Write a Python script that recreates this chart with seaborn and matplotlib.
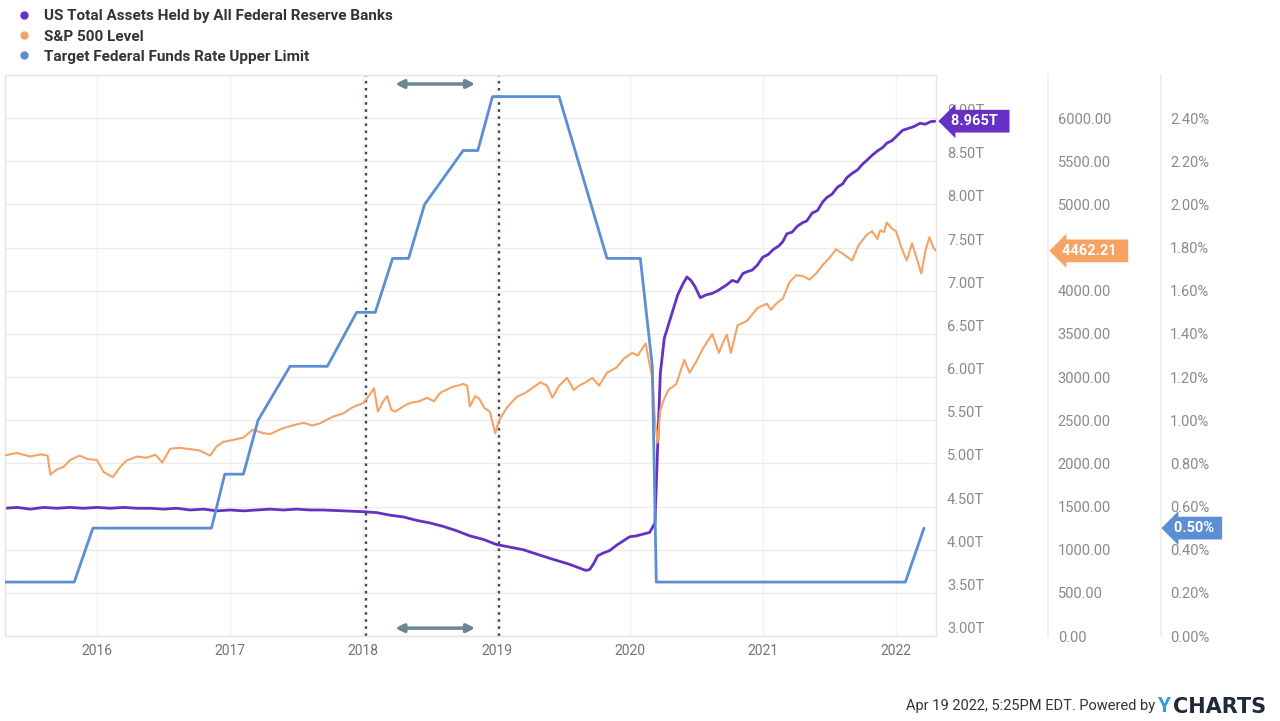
import matplotlib.pyplot as plt
import matplotlib.transforms as mtransforms
from matplotlib.lines import Line2D
import numpy as np
import pandas as pd
import seaborn as sns

sns.set_theme(style="white")
plt.rcParams["font.family"] = ["Roboto", "DejaVu Sans"]

PURPLE = "#6531c4"
ORANGE = "#f6a264"
BLUE = "#5b8ed3"

# --- data (x in decimal years) ---
rate_years = [2015.31, 2015.83, 2015.97, 2016.86, 2016.96, 2017.10, 2017.21,
              2017.45, 2017.73, 2017.95, 2018.09, 2018.22, 2018.34, 2018.46,
              2018.75, 2018.86, 2018.97, 2019.47, 2019.83, 2020.08, 2020.17,
              2020.20, 2022.07, 2022.21]
rate_vals = [0.25, 0.25, 0.50, 0.50, 0.75, 0.75, 1.00,
             1.25, 1.25, 1.50, 1.50, 1.75, 1.75, 2.00,
             2.25, 2.25, 2.50, 2.50, 1.75, 1.75, 1.25,
             0.25, 0.25, 0.50]

asset_years = [2015.31, 2015.40, 2015.50, 2015.60, 2015.70, 2015.80, 2015.90,
               2016.00, 2016.10, 2016.20, 2016.30, 2016.40, 2016.50, 2016.60,
               2016.70, 2016.80, 2016.90, 2017.00, 2017.10, 2017.20, 2017.30,
               2017.40, 2017.50, 2017.60, 2017.70, 2017.85, 2018.00, 2018.10,
               2018.20, 2018.30, 2018.40, 2018.50, 2018.60, 2018.70, 2018.80,
               2018.90, 2019.00, 2019.10, 2019.20, 2019.30, 2019.40, 2019.55,
               2019.67, 2019.70, 2019.73, 2019.76, 2019.80, 2019.85, 2019.90,
               2019.95, 2020.00, 2020.05, 2020.10, 2020.15, 2020.19, 2020.21,
               2020.23, 2020.26, 2020.29, 2020.32, 2020.36, 2020.40, 2020.43,
               2020.46, 2020.49, 2020.53, 2020.57, 2020.62, 2020.66, 2020.70,
               2020.73, 2020.77, 2020.81, 2020.85, 2020.88, 2020.92, 2020.96,
               2021.00, 2021.04, 2021.08, 2021.12, 2021.15, 2021.18, 2021.22,
               2021.26, 2021.30, 2021.33, 2021.37, 2021.41, 2021.45, 2021.48,
               2021.52, 2021.56, 2021.60, 2021.63, 2021.67, 2021.71, 2021.75,
               2021.78, 2021.82, 2021.86, 2021.90, 2021.93, 2021.97, 2022.01,
               2022.05, 2022.09, 2022.13, 2022.18, 2022.22, 2022.26, 2022.30]
asset_vals = [4.48, 4.49, 4.47, 4.49, 4.48, 4.49, 4.48,
              4.49, 4.48, 4.49, 4.48, 4.48, 4.47, 4.48,
              4.46, 4.47, 4.45, 4.46, 4.45, 4.46, 4.47,
              4.46, 4.47, 4.46, 4.46, 4.45, 4.44, 4.43,
              4.40, 4.38, 4.34, 4.31, 4.27, 4.22, 4.16,
              4.12, 4.06, 4.03, 4.00, 3.95, 3.90, 3.83,
              3.76, 3.77, 3.84, 3.93, 3.96, 3.99, 4.05,
              4.10, 4.15, 4.16, 4.18, 4.20, 4.31, 5.19,
              6.04, 6.45, 6.60, 6.75, 6.95, 7.08, 7.16,
              7.12, 7.05, 6.92, 6.95, 6.97, 7.00, 7.04,
              7.07, 7.12, 7.10, 7.20, 7.22, 7.24, 7.30,
              7.39, 7.42, 7.48, 7.52, 7.57, 7.66, 7.68,
              7.75, 7.79, 7.81, 7.90, 7.93, 8.03, 8.08,
              8.12, 8.20, 8.24, 8.31, 8.36, 8.40, 8.47,
              8.51, 8.57, 8.62, 8.66, 8.71, 8.74, 8.80,
              8.86, 8.88, 8.90, 8.94, 8.93, 8.96, 8.965]

spx_years = [2015.31, 2015.40, 2015.50, 2015.58, 2015.63, 2015.65, 2015.70,
             2015.75, 2015.80, 2015.87, 2015.93, 2016.00, 2016.05, 2016.12,
             2016.17, 2016.22, 2016.30, 2016.37, 2016.44, 2016.49, 2016.55,
             2016.62, 2016.70, 2016.77, 2016.85, 2016.90, 2016.95, 2017.02,
             2017.10, 2017.17, 2017.25, 2017.30, 2017.40, 2017.47, 2017.55,
             2017.62, 2017.67, 2017.77, 2017.85, 2017.92, 2018.00, 2018.05,
             2018.08, 2018.11, 2018.15, 2018.18, 2018.21, 2018.24, 2018.30,
             2018.35, 2018.42, 2018.48, 2018.53, 2018.58, 2018.66, 2018.75,
             2018.78, 2018.80, 2018.84, 2018.87, 2018.91, 2018.95, 2018.99,
             2019.02, 2019.08, 2019.15, 2019.22, 2019.33, 2019.38, 2019.42,
             2019.47, 2019.53, 2019.58, 2019.62, 2019.67, 2019.72, 2019.77,
             2019.83, 2019.90, 2019.96, 2020.02, 2020.06, 2020.12, 2020.15,
             2020.17, 2020.19, 2020.21, 2020.23, 2020.26, 2020.29, 2020.35,
             2020.41, 2020.45, 2020.50, 2020.55, 2020.62, 2020.67, 2020.70,
             2020.73, 2020.76, 2020.81, 2020.88, 2020.96, 2021.03, 2021.06,
             2021.10, 2021.15, 2021.20, 2021.25, 2021.30, 2021.35, 2021.40,
             2021.45, 2021.50, 2021.55, 2021.60, 2021.67, 2021.72, 2021.78,
             2021.82, 2021.86, 2021.88, 2021.91, 2021.93, 2021.97, 2022.00,
             2022.04, 2022.08, 2022.12, 2022.15, 2022.19, 2022.22, 2022.25,
             2022.28, 2022.30]
spx_vals = [2095, 2120, 2080, 2105, 2090, 1870, 1930,
            1960, 2040, 2090, 2050, 2040, 1900, 1840,
            1950, 2030, 2080, 2065, 2100, 2010, 2170,
            2180, 2165, 2150, 2090, 2200, 2250, 2270,
            2300, 2390, 2350, 2340, 2410, 2440, 2470,
            2440, 2460, 2540, 2580, 2650, 2700, 2800,
            2870, 2600, 2720, 2780, 2620, 2600, 2660,
            2700, 2720, 2760, 2720, 2820, 2880, 2920,
            2900, 2660, 2780, 2750, 2640, 2600, 2350,
            2500, 2650, 2770, 2820, 2940, 2900, 2760,
            2900, 2990, 2850, 2900, 2940, 2990, 2900,
            3050, 3110, 3220, 3280, 3250, 3390, 3140,
            3000, 2500, 2240, 2620, 2750, 2850, 2920,
            3200, 3050, 3180, 3330, 3500, 3280, 3400,
            3490, 3280, 3600, 3650, 3800, 3850, 3780,
            3850, 3910, 4100, 4180, 4170, 4130, 4200,
            4300, 4380, 4480, 4430, 4350, 4530, 4650,
            4690, 4600, 4700, 4680, 4790, 4720, 4690,
            4500, 4350, 4550, 4400, 4200, 4460, 4620,
            4500, 4462.21]

year_ticks = [2016, 2017, 2018, 2019, 2020, 2021, 2022]
asset_ticks = [3.0, 3.5, 4.0, 4.5, 5.0, 5.5, 6.0, 6.5, 7.0, 7.5, 8.0, 8.5, 9.0]
spx_ticks = [0, 500, 1000, 1500, 2000, 2500, 3000, 3500, 4000, 4500, 5000, 5500, 6000]
rate_ticks = [0.0, 0.2, 0.4, 0.6, 0.8, 1.0, 1.2, 1.4, 1.6, 1.8, 2.0, 2.2, 2.4]
legend_labels = ["US Total Assets Held by All Federal Reserve Banks",
                 "S&P 500 Level", "Target Federal Funds Rate Upper Limit"]

assets = pd.DataFrame({"year": asset_years, "value": asset_vals})
spx = pd.DataFrame({"year": spx_years, "value": spx_vals})
rate = pd.DataFrame({"year": rate_years, "value": rate_vals})

fig = plt.figure(figsize=(12.8, 7.21), dpi=100)
ax = fig.add_axes([5 / 1280, 85 / 721, 931 / 1280, 561 / 721])
ax2 = ax.twinx()
ax3 = ax.twinx()

sns.lineplot(data=assets, x="year", y="value", ax=ax, color=PURPLE, lw=2)
sns.lineplot(data=spx, x="year", y="value", ax=ax2, color=ORANGE, lw=1.5)
sns.lineplot(data=rate, x="year", y="value", ax=ax3, color=BLUE, lw=2)

for a in (ax, ax2, ax3):
    a.set_xlabel("")
    a.set_ylabel("")
    a.set_xlim(2015.31, 2022.30)

ax.set_ylim(3.0, 9.5)
ax2.set_ylim(0, 6500)
ax3.set_ylim(0, 2.6)

ax.yaxis.tick_right()
ax.set_yticks(asset_ticks, [f"{v:.2f}T" for v in asset_ticks])
ax2.set_yticks(spx_ticks, [f"{v:.2f}" for v in spx_ticks])
ax3.set_yticks(rate_ticks, [f"{v:.2f}%" for v in rate_ticks])
ax.set_xticks(year_ticks, [str(y) for y in year_ticks])

ax.tick_params(axis="x", length=0, pad=6, labelsize=10, labelcolor="#747474")
ax.tick_params(axis="y", length=0, pad=8, labelsize=10.5, labelcolor="#8a8a8a")
ax2.tick_params(axis="y", length=0, pad=7, labelsize=10.5, labelcolor="#8a8a8a")
ax3.tick_params(axis="y", length=0, pad=6.5, labelsize=10.5, labelcolor="#8a8a8a")
for a in (ax, ax2, ax3):
    plt.setp(a.get_yticklabels(), va="bottom")

ax.grid(axis="y", color="#ececec", lw=1)
ax.grid(axis="x", color="#f2f2f2", lw=1)
for s in ax.spines.values():
    s.set_color("#e4e4e4")
    s.set_linewidth(1)
for a, pos in ((ax2, 1 + 112 / 931), (ax3, 1 + 225 / 931)):
    for name, s in a.spines.items():
        s.set_visible(name == "right")
    a.spines["right"].set_position(("axes", pos))
    a.spines["right"].set_color("#eeeeee")

# dotted markers for 2018 and 2019, with the double arrows between them
for x in (2018.02, 2019.02):
    ax.axvline(x, color="#3e4852", lw=1.7, ls=(0, (1.1, 1.9)), zorder=1.5)
blend = mtransforms.blended_transform_factory(ax.transData, ax.transAxes)
for yy in (0.984, 0.014):
    ax3.annotate("", xy=(2018.24, yy), xytext=(2018.84, yy), xycoords=blend,
                 textcoords=blend,
                 arrowprops=dict(arrowstyle="<|-|>", color="#6b8792", lw=2.5,
                                 mutation_scale=12, shrinkA=0, shrinkB=0))

# last-value tags
tags = [("8.965T  ", asset_vals[-1], ax, 1 + 15 / 931, PURPLE),
        ("4462.21  ", spx_vals[-1], ax2, 1 + 126 / 931, ORANGE),
        ("0.50% ", rate_vals[-1], ax3, 1 + 238 / 931, BLUE)]
for txt, val, a, xpos, col in tags:
    tf = mtransforms.blended_transform_factory(ax.transAxes, a.transData)
    ax3.text(xpos, val, txt, transform=tf, color="white", weight="bold",
             size=10.5, ha="left", va="center", clip_on=False, zorder=20,
             bbox=dict(boxstyle="larrow,pad=0.3", fc=col, ec="none"))

handles = [Line2D([], [], ls="", marker="o", ms=5, color=c) for c in (PURPLE, ORANGE, BLUE)]
fig.legend(handles, legend_labels, loc="upper left", bbox_to_anchor=(0.003, 1.006),
           frameon=False, handlelength=0.8, handletextpad=0.95, labelspacing=0.4,
           prop={"weight": "bold", "size": 11}, labelcolor="#333333")

fig.text(1155 / 1280, 15 / 721, "Apr 19 2022, 5:25PM EDT. Powered by", ha="right",
         va="center", size=10.5, color="#333333")
fig.text(1157 / 1280, 14 / 721, "Y", ha="left", va="center", size=15,
         weight="bold", color="#2a9fe0")
fig.text(1173 / 1280, 14 / 721, "CHARTS", ha="left", va="center", size=15,
         weight="bold", color="#1f2a36", family="DejaVu Sans")

fig.savefig("out.png", dpi=100)
